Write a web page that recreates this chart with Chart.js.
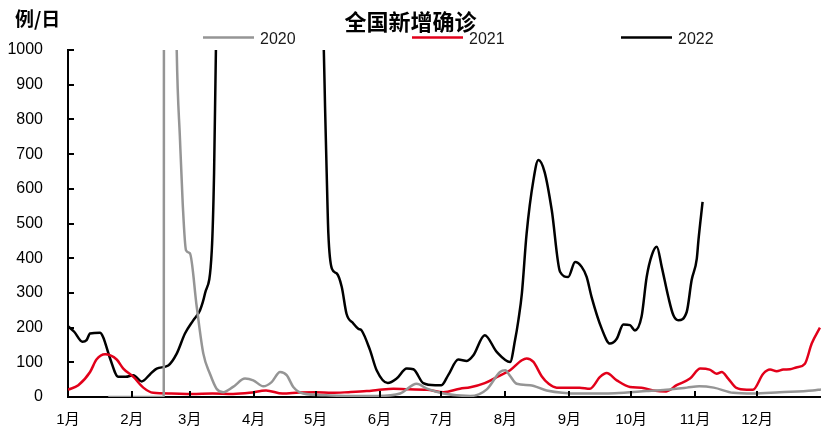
<!DOCTYPE html>
<html><head><meta charset="utf-8">
<script src="https://cdn.jsdelivr.net/npm/chart.js@4.4.1/dist/chart.umd.min.js"></script>
<style>html,body{margin:0;padding:0;background:#fff}#wrap{width:821px;height:429px}</style>
</head><body><div id="wrap"><canvas id="c" width="821" height="429"></canvas></div>
<script>
// ---- data (day of year, daily new confirmed cases) ----
const chartTitle = '全国新增确诊';
const unitLabel = '例/日';
const monthLabels = ['1月','2月','3月','4月','5月','6月','7月','8月','9月','10月','11月','12月'];
const monthStartDays = [0,31,59,90,120,151,181,212,243,273,304,334];
const yTicks = [0,100,200,300,400,500,600,700,800,900,1000];
const seriesNames = ['2020','2021','2022'];

const days2020 = [19.5,46.4,47,48,50,51,52.7,54.3,55.6,57.2,59.1,62.4,65.6,68.8,72,75.3,80,85.8,89.8,94.7,98.7,102.8,106,109.2,114,125,140,150,161,169,174,182,195,203,209.4,212,214,217.5,224,232,248,265,280.5,290,300,306,313,322.5,332,345,361,365];
const cases2020 = [0,0,15152,4050,2600,1800,1000,740,558,423,414,260,125,67,24,14,29,53,48,31,43,72,63,29,10,5,3,3,10,38,24,10,3,22,72,77,63,38,34,19,10,11,17,21,27,31,27,12,10,14,19,22];

const days2021 = [0,5,10.7,13.8,18,23.6,26.8,31.7,36.5,41.3,50,60,70,80,88,96,104,112,120,128,136,144.8,150,157.7,165,174,182,190,195,202,208,214.3,220,222.3,225.6,229.6,233,236.9,248,253,257.9,261.1,266,272.4,278,283.7,290,295,301.5,306.5,311,314.4,316.9,320,324,329,332,337,340.3,343.5,346.7,350,353,357.2,360.5,364.5];
const cases2021 = [21,34,72,108,123,108,82,58,27,12,10,9,10,9,12,19,10,13,14,12,14,17,20,24,22,21,14,24,28,40,58,77,106,111,101,60,38,27,27,24,58,69,48,29,27,19,16,34,53,82,79,67,72,53,26,21,21,67,79,74,79,80,85,96,154,200];

const days2022 = [0,3,7,9,10.7,15.5,17,20.4,24.4,28,31.7,35.7,39.7,43,48.6,52.7,56.7,60.7,64,66.4,69.7,70.8,71.7,74,90,110,122,124,124.6,125.4,126.2,127.9,130.3,132.7,135,138.3,140.7,142.3,146.4,149.6,155,159.3,164.2,167.4,172.2,178,181,184.3,189.2,193.3,196.5,202,207.8,214.3,216.7,218.3,220,222.3,225.6,228,231,234.5,238.5,242.5,245.8,249,251.4,253.8,258.7,262.7,266,269.2,272.4,274.8,278,280.5,283,285.4,287.8,291,293.4,295.8,299.9,302.3,304.8,305.6,307.6];
const cases2022 = [204,188,159,164,183,185,173,111,58,58,63,45,65,82,91,125,183,221,250,298,423,644,1000,1600,5000,3000,1300,1000,836,644,471,370,356,317,240,212,197,192,135,77,40,53,82,80,40,34,34,63,108,104,120,178,130,101,164,221,298,471,625,683,649,538,361,346,389,375,346,288,197,154,168,209,207,192,231,346,409,433,375,288,236,221,245,337,399,452,562];

const seriesColors = ['#959595','#e2001a','#000000'];

function pts(d, v){ return d.map((x,i)=>({x:x, y:v[i]})); }

const decor = {
  id:'decor',
  afterDraw(chart){
    const {ctx, chartArea, scales} = chart;
    const x = scales.x, y = scales.y;
    ctx.save();
    // inward tick marks
    ctx.strokeStyle = '#000'; ctx.lineWidth = 2;
    ctx.beginPath();
    y.ticks.forEach(t=>{ const py = Math.round(y.getPixelForValue(t.value)); ctx.moveTo(chartArea.left, py); ctx.lineTo(chartArea.left+6, py); });
    x.ticks.forEach(t=>{ const px = Math.round(x.getPixelForValue(t.value)); ctx.moveTo(px, chartArea.bottom); ctx.lineTo(px, chartArea.bottom-6); });
    ctx.stroke();
    // unit label
    ctx.fillStyle = '#000';
    ctx.font = 'bold 19px "Noto Sans CJK SC"';
    ctx.textBaseline = 'middle'; ctx.textAlign = 'left';
    ctx.fillText(unitLabel, 15, 19);
    // legend
    const legendX = [203, 412, 621];
    ctx.font = '16px "Liberation Sans", Arial, sans-serif';
    chart.data.datasets.forEach((ds,i)=>{
      ctx.strokeStyle = ds.borderColor; ctx.lineWidth = 2.5;
      ctx.beginPath(); ctx.moveTo(legendX[i], 37.5); ctx.lineTo(legendX[i]+51, 37.5); ctx.stroke();
      ctx.fillStyle = '#1a1a1a';
      ctx.fillText(ds.label, legendX[i]+57, 39.5);
    });
    ctx.restore();
  }
};

new Chart(document.getElementById('c'), {
  type:'line',
  data:{
    datasets: [
      {label:seriesNames[0], data:pts(days2020,cases2020), borderColor:seriesColors[0]},
      {label:seriesNames[1], data:pts(days2021,cases2021), borderColor:seriesColors[1]},
      {label:seriesNames[2], data:pts(days2022,cases2022), borderColor:seriesColors[2]}
    ]
  },
  options:{
    responsive:false, animation:false, devicePixelRatio:1,
    layout:{padding:{left:0,right:0,top:0,bottom:0}},
    elements:{
      line:{borderWidth:2.5, cubicInterpolationMode:'monotone', fill:false},
      point:{radius:0, hoverRadius:0, borderWidth:0}
    },
    plugins:{
      legend:{display:false},
      tooltip:{enabled:false},
      title:{display:true, text:chartTitle, color:'#000',
        font:{family:'"Noto Sans CJK SC"', size:22, weight:'bold'},
        padding:{top:8,bottom:15.6}}
    },
    scales:{
      x:{type:'linear', min:0, max:365,
        afterBuildTicks:(s)=>{ s.ticks = monthStartDays.map(v=>({value:v})); },
        afterFit:(s)=>{ s.height = 32; },
        grid:{display:false, drawTicks:true, tickLength:14, tickColor:'rgba(0,0,0,0)'},
        border:{display:true, color:'#000', width:2},
        ticks:{autoSkip:false, maxRotation:0, padding:0, color:'#000',
          font:{family:'"Liberation Sans", "Noto Sans CJK SC"', size:15},
          callback:(v)=>monthLabels[monthStartDays.indexOf(v)]}
      },
      y:{min:0, max:1000,
        afterBuildTicks:(s)=>{ s.ticks = yTicks.map(v=>({value:v})); },
        afterFit:(s)=>{ s.width = 68; },
        grid:{display:false, drawTicks:true, tickLength:25, tickColor:'rgba(0,0,0,0)'},
        border:{display:true, color:'#000', width:2},
        ticks:{padding:0, color:'#000',
          font:{family:'"Liberation Sans", Arial, sans-serif', size:16},
          callback:(v)=>String(v)}
      }
    }
  },
  plugins:[decor]
});
</script></body></html>
